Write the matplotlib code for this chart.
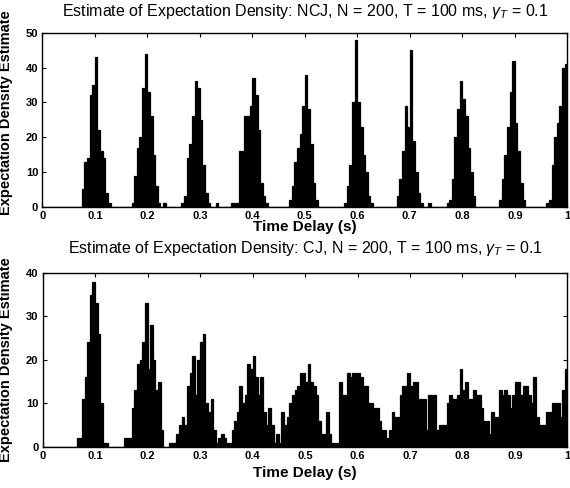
import numpy as np
import matplotlib
matplotlib.use("Agg")
import matplotlib.pyplot as plt

plt.rcParams['font.family'] = ['Liberation Sans', 'DejaVu Sans']
plt.rcParams['mathtext.fontset'] = 'custom'
plt.rcParams['mathtext.rm'] = 'Liberation Sans'
plt.rcParams['mathtext.it'] = 'Liberation Sans:italic'

# 5 ms bins from 0 to 1 s
bin_width = 0.005
bin_starts = np.arange(200) * bin_width

# NCJ estimate, one row per 0.1 s
ncj_values = [
    0, 0, 0, 0, 0, 0, 0, 0, 0, 0, 0, 0, 0, 0, 0, 5, 13, 14, 32, 35,
    43, 22, 16, 14, 4, 1, 0, 0, 0, 0, 0, 0, 0, 0, 1, 9, 17, 20, 34, 44,
    33, 26, 15, 6, 1, 0, 1, 0, 0, 0, 0, 0, 0, 1, 3, 14, 18, 26, 36, 34,
    25, 12, 4, 1, 0, 0, 1, 0, 0, 0, 0, 0, 1, 1, 1, 16, 16, 26, 26, 29,
    37, 32, 22, 7, 3, 1, 0, 0, 0, 0, 0, 0, 0, 0, 2, 6, 13, 17, 21, 29,
    38, 28, 18, 7, 2, 0, 0, 0, 0, 0, 0, 0, 0, 0, 0, 1, 6, 12, 30, 48,
    30, 23, 15, 10, 3, 1, 0, 0, 0, 0, 0, 0, 0, 0, 0, 3, 8, 16, 29, 23,
    45, 19, 10, 4, 1, 0, 0, 1, 0, 0, 0, 0, 0, 0, 1, 2, 8, 20, 28, 36,
    31, 26, 17, 10, 3, 0, 0, 0, 0, 0, 0, 0, 0, 0, 2, 8, 15, 23, 33, 42,
    24, 16, 7, 2, 0, 0, 0, 0, 0, 0, 0, 0, 1, 2, 12, 20, 24, 29, 40, 41,
]

# CJ estimate, one row per 0.1 s
cj_values = [
    0, 0, 0, 0, 0, 0, 0, 0, 0, 0, 0, 0, 0, 2, 2, 11, 16, 24, 35, 38,
    33, 26, 10, 1, 1, 0, 0, 0, 0, 0, 0, 2, 2, 2, 9, 13, 19, 20, 24, 33,
    18, 28, 20, 13, 15, 4, 0, 0, 1, 1, 1, 3, 5, 7, 5, 14, 17, 21, 12, 20,
    24, 26, 10, 8, 11, 4, 1, 2, 3, 2, 1, 1, 4, 6, 8, 14, 10, 12, 19, 18,
    21, 16, 12, 16, 8, 5, 9, 5, 1, 3, 1, 8, 5, 7, 10, 12, 13, 14, 17, 17,
    15, 19, 15, 14, 12, 6, 3, 3, 8, 3, 1, 1, 1, 15, 12, 12, 17, 16, 17, 17,
    17, 16, 14, 14, 10, 10, 9, 9, 6, 4, 4, 2, 4, 8, 7, 7, 12, 14, 14, 17,
    14, 15, 15, 11, 11, 11, 4, 12, 12, 12, 4, 5, 5, 5, 10, 12, 11, 11, 12, 18,
    13, 15, 11, 11, 13, 12, 12, 9, 6, 6, 3, 8, 7, 7, 13, 12, 13, 12, 9, 12,
    15, 15, 12, 14, 14, 12, 10, 16, 7, 5, 5, 5, 8, 8, 10, 10, 10, 7, 13, 18,
]

x_ticks = [0, 0.1, 0.2, 0.3, 0.4, 0.5, 0.6, 0.7, 0.8, 0.9, 1]
x_tick_labels = ['0', '0.1', '0.2', '0.3', '0.4', '0.5', '0.6', '0.7', '0.8', '0.9', '1']

fig = plt.figure(figsize=(5.7, 4.88), dpi=100)
ax1 = fig.add_axes([0.0742, 0.576, 0.921, 0.357])
ax2 = fig.add_axes([0.0746, 0.084, 0.921, 0.357])

panels = [
    (ax1, ncj_values, 50, 'Estimate of Expectation Density: NCJ, N = 200, T = 100 ms, $\\gamma_T$ = 0.1',
     1.124, -0.118, 0.54),
    (ax2, cj_values, 40, 'Estimate of Expectation Density: CJ, N = 200, T = 100 ms, $\\gamma_T$ = 0.1',
     1.142, -0.148, 0.5),
]

for ax, vals, ymax, title, title_y, xlab_y, ylab_y in panels:
    ax.bar(bin_starts, vals, width=bin_width, align='edge', color='black',
           edgecolor='black', linewidth=0.9)
    ax.set_xlim(0, 1)
    ax.set_ylim(0, ymax)
    ax.set_xticks(x_ticks)
    ax.set_xticklabels(x_tick_labels)
    ax.set_yticks(np.arange(0, ymax + 1, 10))
    ax.tick_params(direction='in', top=True, right=True, length=3, width=0.8,
                   labelsize=8, pad=3)
    for lab in ax.get_xticklabels() + ax.get_yticklabels():
        lab.set_fontweight('bold')
    for sp in ax.spines.values():
        sp.set_linewidth(1.0)
    ax.text(0.5, title_y, title, transform=ax.transAxes, ha='center', va='center',
            fontsize=11.5)
    ax.text(0.5, xlab_y, 'Time Delay (s)', transform=ax.transAxes, ha='center',
            va='center', fontsize=11, fontweight='bold')
    ax.set_ylabel('Expectation Density Estimate', fontsize=10.5, fontweight='bold')
    ax.yaxis.set_label_coords(-0.056, ylab_y)

fig.savefig('out.png', dpi=100)
